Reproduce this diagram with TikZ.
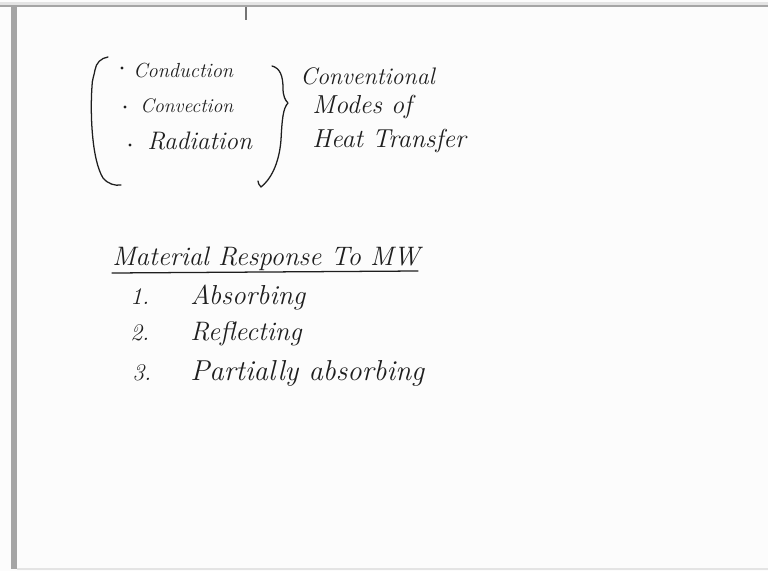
\documentclass[tikz,border=0pt]{standalone}
\usepackage{tikz}
\usetikzlibrary{positioning}
\definecolor{ink}{RGB}{30,30,30}
\definecolor{rim}{RGB}{165,165,165}
\definecolor{rimlight}{RGB}{228,228,228}
\definecolor{paper}{RGB}{252,252,252}

\begin{document}
\begin{tikzpicture}[x=0.025cm,y=-0.025cm,
    hand/.style={ink, anchor=base west, inner sep=0pt},
    stroke/.style={ink, line width=0.9pt, line cap=round, line join=round}]
    % page and frame
    \fill[paper] (0,0) rectangle (768,571);
    \useasboundingbox (0,0) rectangle (768,571);
    \fill[rimlight] (0,2) rectangle (768,5);
    \fill[rim] (0,5) rectangle (768,7);
    \fill[rim] (11,7) rectangle (17,569);
    \fill[rimlight] (17,568) rectangle (768,570);
    \draw[rim!70!black, line width=1.2pt] (246,7) -- (246,20);
    % modes of heat transfer
    \path (133,78) node[hand, font=\fontsize{14.5}{16}\selectfont\itshape] (cond) {Conduction};
    \path (140,113) node[hand, font=\fontsize{14}{16}\selectfont\itshape] (conv) {Convection};
    \path (147,150) node[hand, font=\fontsize{18}{20}\selectfont\itshape] (rad) {Radiation};
    \fill[ink] (122,68) circle(1.6) (125,107) circle(1.6) (130,145) circle(1.6);
    % left brace
    \draw[stroke] (108,57) .. controls (101,58) and (96,63) .. (95,70)
      .. controls (94,76) and (92,80) .. (92,86)
      .. controls (90,115) and (92,160) .. (103,178)
      .. controls (108,184) and (115,186) .. (121,185);
    % right brace
    \draw[stroke] (272,66) .. controls (280,68) and (283,76) .. (283,88)
      .. controls (283,96) and (285,100) .. (288,103)
      .. controls (283,108) and (282,120) .. (281,140)
      .. controls (279,165) and (270,180) .. (261,187)
      .. controls (259,185) and (258,183) .. (258,181);
    % what the three of them are
    \path (300,85) node[hand, font=\fontsize{17}{19}\selectfont\itshape] (conventional) {Conventional};
    \path (312,114) node[hand, font=\fontsize{18.5}{20}\selectfont\itshape] (modes) {Modes of};
    \path (312,148) node[hand, font=\fontsize{18.5}{20}\selectfont\itshape] (heat) {Heat Transfer};
    % material response
    \path (112,265) node[hand, font=\fontsize{19}{21}\selectfont\itshape] (title) {Material Response To MW};
    \draw[stroke] (112,273) -- (418,271);
    \path (130,304) node[hand, font=\fontsize{17}{19}\selectfont\itshape] (n1) {1.}
          (130,340) node[hand, font=\fontsize{17}{19}\selectfont\itshape] (n2) {2.}
          (132,380) node[hand, font=\fontsize{17}{19}\selectfont\itshape] (n3) {3.};
    \path (190,304) node[hand, font=\fontsize{19.5}{21}\selectfont\itshape] (absorb) {Absorbing}
          (190,340) node[hand, font=\fontsize{19}{21}\selectfont\itshape] (reflect) {Reflecting}
          (190,380) node[hand, font=\fontsize{20.5}{22}\selectfont\itshape] (partial) {Partially absorbing};
\end{tikzpicture}
\end{document}
